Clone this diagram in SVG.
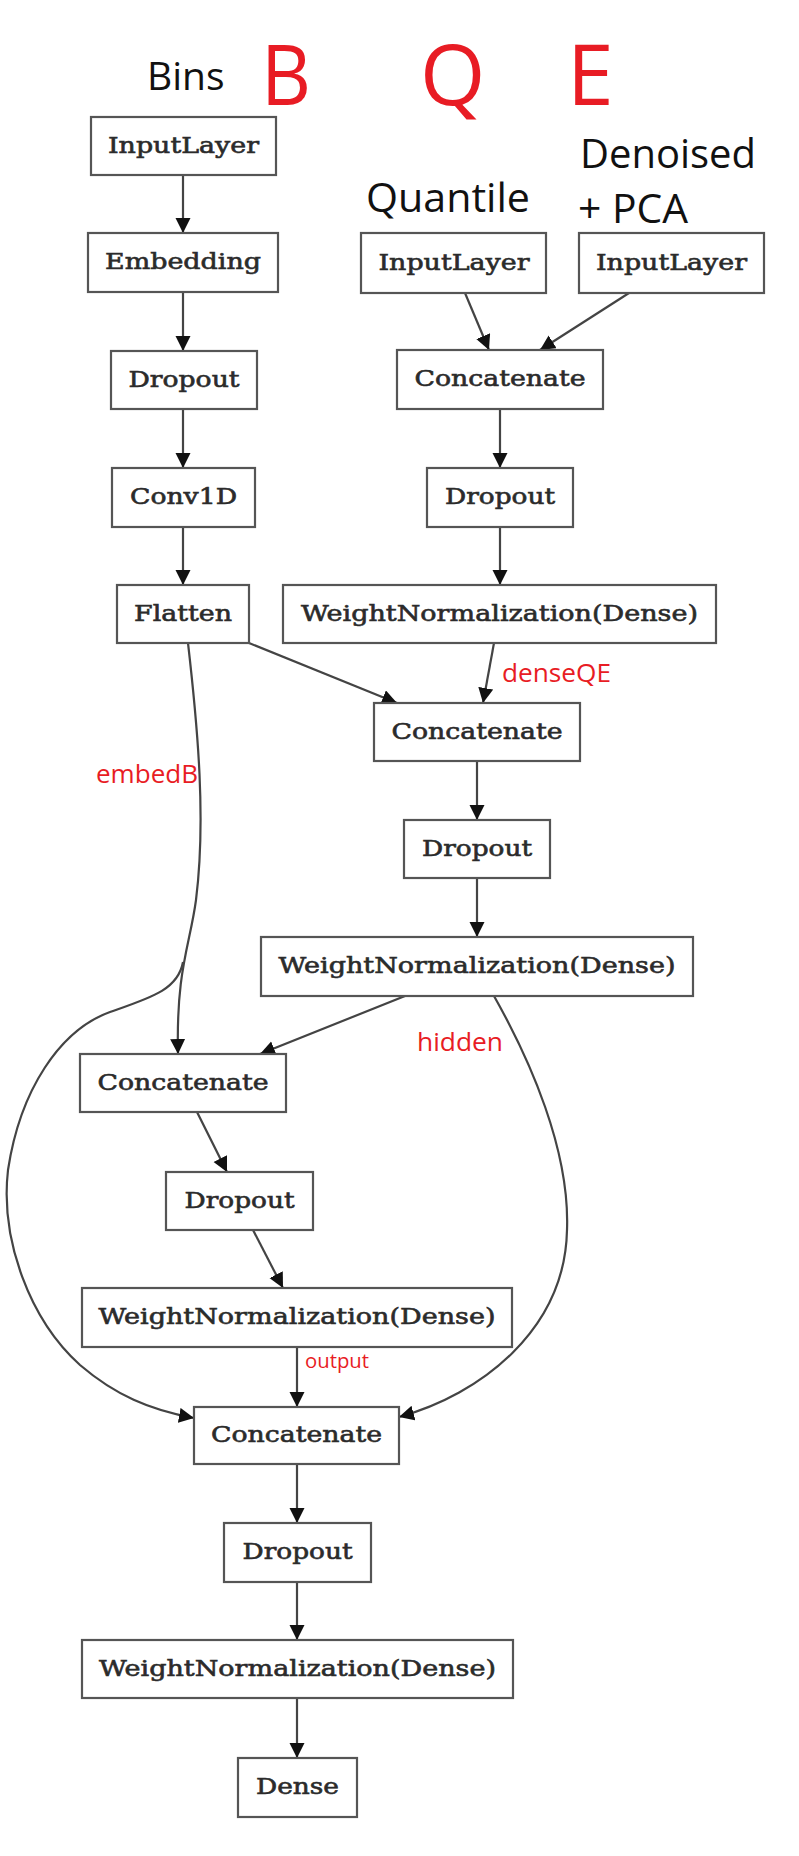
<svg xmlns="http://www.w3.org/2000/svg" width="799" height="1856" viewBox="0 0 799 1856">
<style>
.box{fill:#fff;stroke:#555;stroke-width:2.2}
.nt{font-family:"DejaVu Serif","Liberation Serif",serif;font-size:22px;fill:#2b2b2b;stroke:#2b2b2b;stroke-width:0.6;text-anchor:middle}
.edge{fill:none;stroke:#444;stroke-width:2.2}
.ann{font-family:"Open Sans","Noto Sans","Liberation Sans",sans-serif;fill:#111}
.red{font-family:"Open Sans","Noto Sans","Liberation Sans",sans-serif;fill:#e81c24}
</style>
<defs>
<marker id="ah" markerUnits="userSpaceOnUse" markerWidth="17" markerHeight="16" refX="15" refY="7.5" orient="auto">
<path d="M0,0 L15,7.5 L0,15 z" fill="#111"/>
</marker>
</defs>
<rect width="799" height="1856" fill="#fff"/>

<g id="annotations">
<text class="ann" x="147" y="90" font-size="39">Bins</text>
<text class="red" x="261" y="105" font-size="84" textLength="50" lengthAdjust="spacingAndGlyphs">B</text>
<text class="red" x="420" y="105" font-size="84">Q</text>
<text class="red" x="567" y="105" font-size="84">E</text>
<text class="ann" x="366" y="212" font-size="40" textLength="164" lengthAdjust="spacingAndGlyphs">Quantile</text>
<text class="ann" x="580" y="168" font-size="40" textLength="176" lengthAdjust="spacingAndGlyphs">Denoised</text>
<text class="ann" x="578" y="223" font-size="40" textLength="110" lengthAdjust="spacingAndGlyphs">+ PCA</text>
<text class="red" x="96" y="783" font-size="25" textLength="102" lengthAdjust="spacingAndGlyphs">embedB</text>
<text class="red" x="502" y="682" font-size="25" textLength="109" lengthAdjust="spacingAndGlyphs">denseQE</text>
<text class="red" x="417" y="1051" font-size="25" textLength="86" lengthAdjust="spacingAndGlyphs">hidden</text>
<text class="red" x="305" y="1368" font-size="20" textLength="64" lengthAdjust="spacingAndGlyphs">output</text>
</g>

<g id="connectors">
<path class="edge" marker-end="url(#ah)" d="M183,175 L183,233"/>
<path class="edge" marker-end="url(#ah)" d="M183,292 L183,351"/>
<path class="edge" marker-end="url(#ah)" d="M183,409 L183,468"/>
<path class="edge" marker-end="url(#ah)" d="M183,527 L183,585"/>
<path class="edge" marker-end="url(#ah)" d="M465,293 L489,350"/>
<path class="edge" marker-end="url(#ah)" d="M629,293 L540,350"/>
<path class="edge" marker-end="url(#ah)" d="M500,409 L500,468"/>
<path class="edge" marker-end="url(#ah)" d="M500,527 L500,585"/>
<path class="edge" marker-end="url(#ah)" d="M249,643 L397,703"/>
<path class="edge" marker-end="url(#ah)" d="M494,643 L483,703"/>
<path class="edge" marker-end="url(#ah)" d="M477,761 L477,820"/>
<path class="edge" marker-end="url(#ah)" d="M477,878 L477,937"/>
<path class="edge" marker-end="url(#ah)" d="M188,643 C198,730 206,820 196,900 C190,945 176,970 178,1054"/>
<path class="edge" marker-end="url(#ah)" d="M183,962 C178,990 150,998 110,1012 C60,1030 20,1090 8,1170 C0,1240 30,1320 80,1365 C115,1395 150,1410 194,1418"/>
<path class="edge" marker-end="url(#ah)" d="M405,996 L260,1054"/>
<path class="edge" marker-end="url(#ah)" d="M494,996 C530,1060 570,1150 567,1230 C565,1330 480,1395 399,1417"/>
<path class="edge" marker-end="url(#ah)" d="M197,1112 L227,1172"/>
<path class="edge" marker-end="url(#ah)" d="M253,1230 L283,1288"/>
<path class="edge" marker-end="url(#ah)" d="M297,1347 L297,1407"/>
<path class="edge" marker-end="url(#ah)" d="M297,1464 L297,1523"/>
<path class="edge" marker-end="url(#ah)" d="M297,1582 L297,1640"/>
<path class="edge" marker-end="url(#ah)" d="M297,1698 L297,1758"/>
</g>

<g id="n_input_b"><rect class="box" x="91" y="117" width="185" height="58"/><text class="nt" x="183.5" y="153" textLength="151" lengthAdjust="spacingAndGlyphs">InputLayer</text></g>
<g id="n_embedding"><rect class="box" x="88" y="233" width="190" height="59"/><text class="nt" x="183" y="269" textLength="156" lengthAdjust="spacingAndGlyphs">Embedding</text></g>
<g id="n_dropout_b"><rect class="box" x="111" y="351" width="146" height="58"/><text class="nt" x="184" y="387" textLength="111" lengthAdjust="spacingAndGlyphs">Dropout</text></g>
<g id="n_conv1d"><rect class="box" x="112" y="468" width="143" height="59"/><text class="nt" x="183.5" y="504" textLength="107" lengthAdjust="spacingAndGlyphs">Conv1D</text></g>
<g id="n_flatten"><rect class="box" x="117" y="585" width="132" height="58"/><text class="nt" x="183" y="621" textLength="98" lengthAdjust="spacingAndGlyphs">Flatten</text></g>
<g id="n_input_q"><rect class="box" x="361" y="233" width="185" height="60"/><text class="nt" x="454" y="270" textLength="151" lengthAdjust="spacingAndGlyphs">InputLayer</text></g>
<g id="n_input_e"><rect class="box" x="579" y="233" width="185" height="60"/><text class="nt" x="671.5" y="270" textLength="151" lengthAdjust="spacingAndGlyphs">InputLayer</text></g>
<g id="n_concat1"><rect class="box" x="397" y="350" width="206" height="59"/><text class="nt" x="500" y="386" textLength="171" lengthAdjust="spacingAndGlyphs">Concatenate</text></g>
<g id="n_dropout_qe"><rect class="box" x="427" y="468" width="146" height="59"/><text class="nt" x="500" y="504" textLength="110" lengthAdjust="spacingAndGlyphs">Dropout</text></g>
<g id="n_wn1"><rect class="box" x="283" y="585" width="433" height="58"/><text class="nt" x="499.5" y="621" textLength="397" lengthAdjust="spacingAndGlyphs">WeightNormalization(Dense)</text></g>
<g id="n_concat2"><rect class="box" x="374" y="703" width="206" height="58"/><text class="nt" x="477" y="739" textLength="171" lengthAdjust="spacingAndGlyphs">Concatenate</text></g>
<g id="n_dropout2"><rect class="box" x="404" y="820" width="146" height="58"/><text class="nt" x="477" y="856" textLength="110" lengthAdjust="spacingAndGlyphs">Dropout</text></g>
<g id="n_wn2"><rect class="box" x="261" y="937" width="432" height="59"/><text class="nt" x="477" y="973" textLength="397" lengthAdjust="spacingAndGlyphs">WeightNormalization(Dense)</text></g>
<g id="n_concat3"><rect class="box" x="80" y="1054" width="206" height="58"/><text class="nt" x="183" y="1090" textLength="171" lengthAdjust="spacingAndGlyphs">Concatenate</text></g>
<g id="n_dropout3"><rect class="box" x="166" y="1172" width="147" height="58"/><text class="nt" x="239.5" y="1208" textLength="110" lengthAdjust="spacingAndGlyphs">Dropout</text></g>
<g id="n_wn3"><rect class="box" x="82" y="1288" width="430" height="59"/><text class="nt" x="297" y="1324" textLength="397" lengthAdjust="spacingAndGlyphs">WeightNormalization(Dense)</text></g>
<g id="n_concat4"><rect class="box" x="194" y="1407" width="205" height="57"/><text class="nt" x="296.5" y="1442" textLength="171" lengthAdjust="spacingAndGlyphs">Concatenate</text></g>
<g id="n_dropout4"><rect class="box" x="224" y="1523" width="147" height="59"/><text class="nt" x="297.5" y="1559" textLength="110" lengthAdjust="spacingAndGlyphs">Dropout</text></g>
<g id="n_wn4"><rect class="box" x="82" y="1640" width="431" height="58"/><text class="nt" x="297.5" y="1676" textLength="397" lengthAdjust="spacingAndGlyphs">WeightNormalization(Dense)</text></g>
<g id="n_dense"><rect class="box" x="238" y="1758" width="119" height="59"/><text class="nt" x="297.5" y="1794" textLength="83" lengthAdjust="spacingAndGlyphs">Dense</text></g>
</svg>
